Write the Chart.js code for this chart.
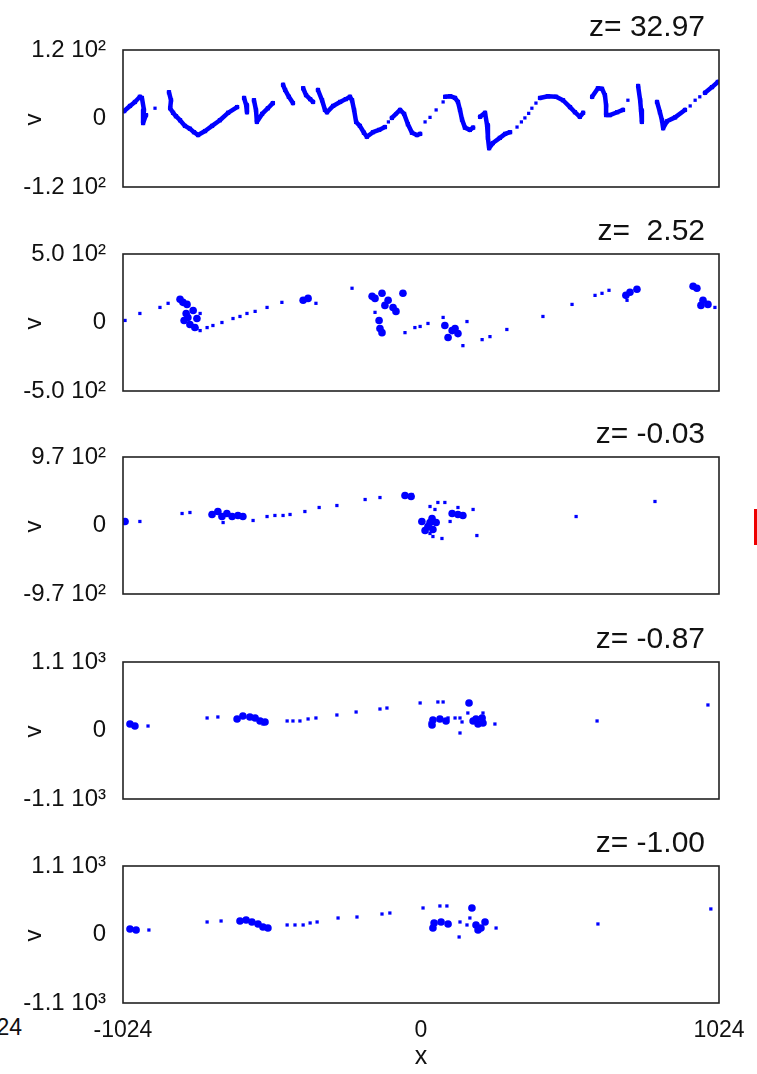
<!DOCTYPE html>
<html>
<head>
<meta charset="UTF-8">
<title>v - x phase space</title>
<script src="https://cdn.jsdelivr.net/npm/chart.js"></script>
<style>
  body { margin: 0; background: #fff; width: 757px; height: 1074px; position: relative; overflow: hidden;
         font-family: "Liberation Sans", Arial, sans-serif; }
  canvas { position: absolute; left: 0; }
  #cut { position: absolute; left: -50px; top: 1014px; width: 72px; text-align: right; font-size: 23px; color: #111; }
  #red { position: absolute; left: 754px; top: 509px; width: 3px; height: 36px; background: #e00; }
</style>
</head>
<body>
<div id="cut">-1024</div>
<div id="red"></div>
<script>
// panel labels and axis ranges
const zLabels = ['z= 32.97', 'z=  2.52', 'z= -0.03', 'z= -0.87', 'z= -1.00'];
const vMax = [120, 500, 970, 1100, 1100];
const vTickLabels = [
  ['-1.2 10²', '0', '1.2 10²'],
  ['-5.0 10²', '0', '5.0 10²'],
  ['-9.7 10²', '0', '9.7 10²'],
  ['-1.1 10³', '0', '1.1 10³'],
  ['-1.1 10³', '0', '1.1 10³']
];
const xTicks = [-1024, 0, 1024];
const xTickLabels = ['-1024', '0', '1024'];

// z = 32.97 : dense streaks (x, v)
const p1Streaks = [
  [[-1020,13],[-1000,22],[-983,29],[-966,38],[-959,36],[-952,15],[-955,-8],[-945,6]],
  [[-866,46],[-859,32],[-862,18],[-852,10],[-842,4],[-828,-3],[-811,-13],[-794,-18],[-780,-24],[-766,-29],[-742,-22],[-718,-13],[-691,-3],[-663,10],[-632,20]],
  [[-608,36],[-601,24],[-598,11]],
  [[-574,32],[-567,15],[-564,-6],[-546,8],[-526,18],[-509,27]],
  [[-474,59],[-467,50],[-454,38],[-440,27]],
  [[-405,53],[-395,41],[-381,34],[-371,29]],
  [[-354,50],[-340,32],[-330,15],[-323,11],[-302,22],[-278,29],[-258,34],[-244,38],[-237,32],[-230,15],[-223,-6],[-210,-13],[-196,-25],[-186,-32],[-165,-24],[-144,-20],[-124,-15]],
  [[-100,1],[-72,15],[-58,8],[-45,-10],[-31,-25],[-14,-29],[-3,-27]],
  [[83,38],[100,39],[117,36],[127,29],[134,15],[141,-2],[151,-16],[168,-20],[179,-16]],
  [[203,3],[220,10],[227,-11],[230,-34],[234,-52],[247,-43],[271,-34],[289,-27],[306,-24]],
  [[409,36],[436,39],[464,38],[488,32],[512,20],[529,11],[546,3],[557,10]],
  [[588,38],[608,53],[622,52],[632,41],[636,23],[636,6],[649,6],[674,11],[694,15]],
  [[746,57],[753,32],[756,15],[759,-6]],
  [[811,29],[821,11],[828,-3],[832,-17],[845,-5],[873,2],[907,15]],
  [[976,45],[1000,55],[1020,64]]
];
const p1Dots = [[-914,18],[-112,-6],[-86,8],[14,-6],[31,2],[52,15],[76,29],[330,-15],[345,-6],[357,1],[370,9],[381,18],[395,27],[711,32],[925,22],[942,32],[958,38]];

// z = 2.52
const p2Dots = [[-1017,15],[-966,66],[-897,110],[-869,140],[-759,66],[-770,-44],[-759,-59],[-735,-37],[-715,-22],[-684,0],[-646,29],[-622,44],[-598,66],[-570,81],[-529,110],[-478,147],[-361,140],[-237,250],[-158,74],[-55,-74],[-21,-37],[-3,-29],[24,-7],[76,37],[144,-169],[158,7],[210,-125],[237,-103],[295,-51],[419,44],[519,132],[598,198],[622,213],[646,235],[708,162],[1010,110]];
const p2Clumps = [[-828,169],[-818,147],[-804,132],[-807,66],[-814,15],[-801,37],[-794,-15],[-777,-37],[-770,29],[-783,88],[-405,162],[-388,176],[-168,191],[-158,176],[-134,213],[-124,125],[-113,162],[-96,110],[-86,81],[-62,213],[-144,15],[-141,-44],[-134,-74],[82,-22],[93,-110],[107,-59],[117,-44],[127,-81],[704,198],[718,221],[742,243],[935,265],[948,250],[962,125],[969,162],[986,132]];

// z = -0.03
const p3Dots = [[-966,57],[-821,170],[-794,184],[-680,42],[-577,71],[-529,127],[-502,142],[-474,142],[-450,156],[-399,198],[-350,255],[-289,283],[-192,368],[-141,396],[-31,439],[31,269],[48,227],[58,326],[82,326],[100,57],[127,255],[179,227],[192,-142],[31,-113],[41,-156],[72,-184],[533,127],[804,340]];
const p3Clumps = [[-1017,57],[-718,156],[-698,198],[-684,127],[-667,170],[-649,127],[-629,142],[-612,127],[-55,425],[-34,411],[3,57],[14,-71],[24,-14],[31,42],[38,100],[41,-57],[52,42],[107,170],[127,156],[144,142]];

// z = -0.87
const p4Dots = [[-938,72],[-735,201],[-698,217],[-543,104],[-460,153],[-440,153],[-416,153],[-388,185],[-361,201],[-289,249],[-223,297],[-141,345],[-117,361],[-3,442],[31,120],[58,458],[76,458],[93,201],[117,201],[134,201],[161,281],[141,137],[213,281],[134,-40],[254,104],[605,153],[986,410]];
const p4Clumps = [[-1000,104],[-983,72],[-632,185],[-612,233],[-588,217],[-570,201],[-553,153],[-536,137],[38,88],[41,169],[65,185],[86,153],[165,442],[179,153],[189,185],[196,104],[210,201],[213,120]];

// z = -1.00
const p5Dots = [[-935,72],[-735,201],[-687,217],[-460,153],[-433,153],[-405,153],[-381,185],[-357,201],[-285,265],[-220,281],[-134,329],[-107,345],[7,426],[65,458],[89,458],[134,201],[158,153],[168,265],[131,-40],[258,104],[608,169],[996,410]];
const p5Clumps = [[-1000,88],[-979,72],[-622,217],[-601,233],[-581,201],[-560,169],[-543,120],[-526,104],[41,104],[45,185],[69,201],[93,169],[175,426],[189,153],[196,72],[206,104],[220,201]];

const streaks = [p1Streaks, [], [], [], []];
const dots = [p1Dots, p2Dots, p3Dots, p4Dots, p5Dots];
const clumps = [[], p2Clumps, p3Clumps, p4Clumps, p5Clumps];

// layout
const panelTop = [50, 254, 457, 662, 866];
const plotH = 137;
const BLUE = '#0000ff';
const FONT = '"Liberation Sans", Arial, sans-serif';

Chart.defaults.font.family = FONT;
Chart.defaults.color = '#111';

const framePlugin = {
  id: 'frame',
  afterDraw(chart, args, opts) {
    const { ctx, chartArea: a } = chart;
    ctx.save();
    ctx.strokeStyle = '#222';
    ctx.lineWidth = 1.6;
    ctx.strokeRect(a.left, a.top, a.right - a.left, a.bottom - a.top);
    ctx.fillStyle = '#111';
    ctx.font = '30px ' + FONT;
    ctx.textAlign = 'right';
    ctx.textBaseline = 'alphabetic';
    ctx.fillText(opts.text, a.right - 14, a.top - 14);
    // rotated axis name
    ctx.translate(41, (a.top + a.bottom) / 2 + 1);
    ctx.rotate(-Math.PI / 2);
    ctx.font = '24px ' + FONT;
    ctx.textAlign = 'center';
    ctx.fillText('v', 0, 0);
    ctx.restore();
  }
};

const toXY = arr => arr.map(([x, y]) => ({ x, y }));

for (let i = 0; i < 5; i++) {
  const last = i === 4;
  const padTop = 45;
  const xAxisH = last ? 71 : 30;
  const canvas = document.createElement('canvas');
  canvas.width = 757;
  canvas.height = padTop + plotH + xAxisH;
  canvas.style.top = (panelTop[i] - padTop) + 'px';
  document.body.appendChild(canvas);

  const datasets = [];
  streaks[i].forEach(s => datasets.push({
    data: toXY(s), showLine: true, borderColor: BLUE, borderWidth: 4.5, borderJoinStyle: 'round',
    borderCapStyle: 'round', pointRadius: 3, pointStyle: 'rect', pointBackgroundColor: BLUE, pointBorderWidth: 0
  }));
  datasets.push({
    data: toXY(dots[i]), showLine: false, pointRadius: 2.3, pointStyle: 'rect',
    backgroundColor: BLUE, borderColor: BLUE, borderWidth: 0
  });
  datasets.push({
    data: toXY(clumps[i]), showLine: false, pointRadius: 3.8, pointStyle: 'circle',
    backgroundColor: BLUE, borderColor: BLUE, borderWidth: 0
  });

  const vm = vMax[i];
  const vLabels = vTickLabels[i];
  new Chart(canvas, {
    type: 'scatter',
    data: { datasets },
    options: {
      responsive: false,
      animation: false,
      devicePixelRatio: 1,
      layout: { padding: { top: padTop, bottom: 0, left: 0, right: 38 } },
      plugins: { legend: { display: false }, tooltip: { enabled: false }, frame: { text: zLabels[i] } },
      scales: {
        x: {
          type: 'linear', min: -1024, max: 1024,
          afterBuildTicks: s => { s.ticks = xTicks.map(v => ({ value: v })); },
          afterFit: s => { s.height = xAxisH; },
          grid: { display: false }, border: { display: false },
          ticks: { display: last, font: { size: 23 }, padding: 6, maxRotation: 0, autoSkip: false,
                   callback: (v, idx) => xTickLabels[idx] },
          title: { display: last, text: 'x', font: { size: 25 }, padding: { top: 0, bottom: 2 } }
        },
        y: {
          type: 'linear', min: -vm, max: vm,
          afterBuildTicks: s => { s.ticks = [-vm, 0, vm].map(v => ({ value: v })); },
          afterFit: s => { s.width = 123; },
          grid: { display: false }, border: { display: false },
          ticks: { font: { size: 24 }, padding: 9, autoSkip: false,
                   callback: (v, idx) => vLabels[idx] }
        }
      }
    },
    plugins: [framePlugin]
  });
}
</script>
</body>
</html>
